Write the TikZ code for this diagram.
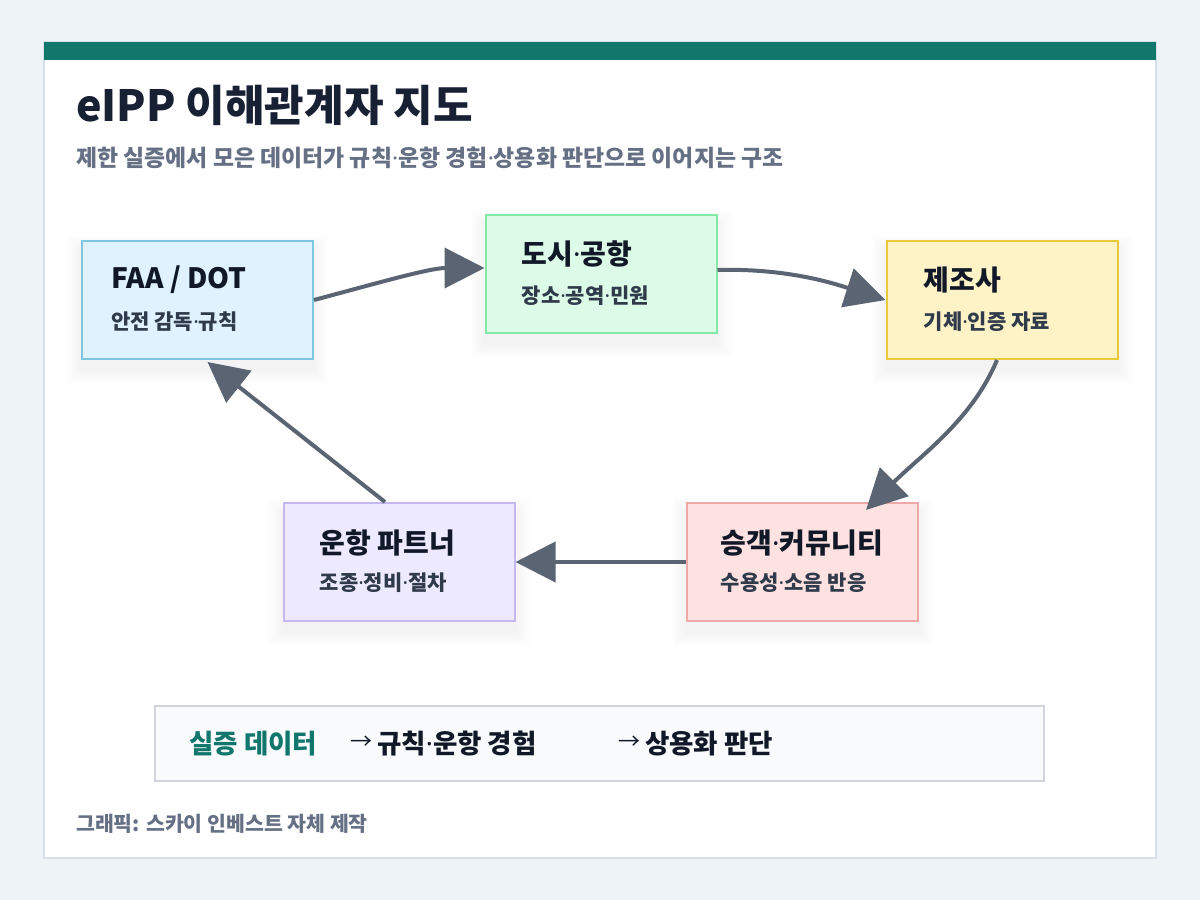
\documentclass[tikz,border=0pt]{standalone}
\usepackage{fontspec}
\setmainfont{Noto Sans CJK KR}
\newfontfamily\latn{Noto Sans}
\newcommand{\md}{{\latn\char"00B7}}
\usetikzlibrary{arrows.meta,calc,backgrounds}
\pgfdeclarelayer{shad}
\pgfsetlayers{background,shad,main}
\definecolor{bgc}{HTML}{EEF3F7}
\definecolor{cardb}{HTML}{D6E0EA}
\definecolor{tealc}{HTML}{11766C}
\definecolor{titlec}{HTML}{182033}
\definecolor{subc}{HTML}{667085}
\definecolor{arrc}{HTML}{5B6472}
\definecolor{boxt}{HTML}{111827}
\definecolor{boxs}{HTML}{2F3A4A}
\definecolor{faaf}{HTML}{E0F2FE}\definecolor{faad}{HTML}{7DC8DF}
\definecolor{dosf}{HTML}{DCFCE7}\definecolor{dosd}{HTML}{86E8A8}
\definecolor{mfrf}{HTML}{FEF3C7}\definecolor{mfrd}{HTML}{E8C93A}
\definecolor{paxf}{HTML}{FEE2E2}\definecolor{paxd}{HTML}{EEA8A8}
\definecolor{opf}{HTML}{EDE9FE}\definecolor{opd}{HTML}{C4B8EE}
\definecolor{legf}{HTML}{F8FAFC}\definecolor{legd}{HTML}{D1D5DB}
\tikzset{
  stake/.style={draw, line width=2pt, minimum width=231pt, minimum height=118pt, inner sep=0pt},
  btitle/.style={anchor=west, inner sep=0pt, text=boxt, font=\bfseries\fontsize{28}{32}\selectfont},
  bsub/.style={anchor=west, inner sep=0pt, text=boxs, font=\bfseries\fontsize{21}{25}\selectfont},
  flow/.style={draw=arrc, line width=4pt, -{Triangle[length=40pt,width=40pt]}},
  legtxt/.style={anchor=west, inner sep=0pt, text=boxt, font=\bfseries\fontsize{26.5}{30}\selectfont},
  legarr/.style={anchor=west, inner sep=0pt, text=boxt, font=\mdseries\fontsize{22}{26}\selectfont},
}
\newcommand{\softshadow}[1]{%
  \foreach \i in {0,...,11}{%
    \fill[black, opacity=0.0045] ([shift={(-1.3*\i,-1.3*\i+10)}]#1.north west) rectangle ([shift={(1.3*\i,1.3*\i+10)}]#1.south east);
  }}
\begin{document}
\begin{tikzpicture}[x=1pt,y=-1pt]
\useasboundingbox (0,0) rectangle (1200,900);
\begin{pgfonlayer}{background}
\fill[bgc] (0,0) rectangle (1200,900);
\filldraw[fill=white, draw=cardb, line width=1.5pt] (44,42) rectangle (1156,858);
\fill[tealc] (44,42) rectangle (1156,60);
\end{pgfonlayer}
\node[anchor=west, inner sep=0pt, text=titlec, font=\bfseries\fontsize{43}{52}\selectfont] (title) at (76,105) {eIPP 이해관계자 지도};
\node[anchor=west, inner sep=0pt, text=subc, font=\bfseries\fontsize{22.9}{27}\selectfont] (subtitle) at (76,158) {제한 실증에서 모은 데이터가 규칙\md 운항 경험\md 상용화 판단으로 이어지는 구조};

\node[stake, fill=faaf, draw=faad] (faa) at (197.5,300) {};
\node[stake, fill=dosf, draw=dosd] (dosi) at (601,274) {};
\node[stake, fill=mfrf, draw=mfrd] (mfr) at (1002,300) {};
\node[stake, fill=paxf, draw=paxd] (pax) at (802,562) {};
\node[stake, fill=opf, draw=opd] (op) at (399,562) {};
\begin{pgfonlayer}{shad}
\softshadow{faa}\softshadow{dosi}\softshadow{mfr}\softshadow{pax}\softshadow{op}
\end{pgfonlayer}

\node[btitle] (faat) at ($(faa.north west)+(30,40)$) {FAA / DOT};
\node[bsub] (faas) at ($(faa.north west)+(30,82)$) {안전 감독\md 규칙};
\node[btitle] (dosit) at ($(dosi.north west)+(37,40)$) {도시\md 공항};
\node[bsub] (dosis) at ($(dosi.north west)+(37,82)$) {장소\md 공역\md 민원};
\node[btitle] (mfrt) at ($(mfr.north west)+(38,40)$) {제조사};
\node[bsub] (mfrs) at ($(mfr.north west)+(38,82)$) {기체\md 인증 자료};
\node[btitle] (paxt) at ($(pax.north west)+(35,41)$) {승객\md 커뮤니티};
\node[bsub] (paxs) at ($(pax.north west)+(35,81)$) {수용성\md 소음 반응};
\node[btitle] (opt) at ($(op.north west)+(37,41)$) {운항 파트너};
\node[bsub] (ops) at ($(op.north west)+(37,81)$) {조종\md 정비\md 절차};

\draw[flow] (faa.east) .. controls +(60,-16) and +(-55,0) .. ([yshift=6pt]dosi.west);
\draw[flow] ([yshift=4pt]dosi.east) .. controls +(70,-2) and +(-50,-16) .. (mfr.west);
\draw[flow] ([xshift=-5pt]mfr.south) .. controls +(-25,60) and +(55,-55) .. ([xshift=64pt,yshift=-8pt]pax.north);
\draw[flow] (pax.west) -- (op.east);
\draw[flow] ([xshift=-14pt]op.north) -- ([xshift=10pt,yshift=-2pt]faa.south);

\filldraw[fill=legf, draw=legd, line width=1.5pt] (155,706) rectangle (1044,781);
\node[legtxt, text=tealc] (l1) at (189,744) {실증 데이터};
\node[legarr] (a2) at (350,743) {→};
\node[legtxt] (l2) at (377,744) {규칙\md 운항 경험};
\node[legarr] (a3) at (618,743) {→};
\node[legtxt] (l3) at (645,744) {상용화 판단};

\node[anchor=west, inner sep=0pt, text=subc, font=\bfseries\fontsize{20.5}{24}\selectfont] (foot) at (76,824) {그래픽: 스카이 인베스트 자체 제작};
\end{tikzpicture}
\end{document}
